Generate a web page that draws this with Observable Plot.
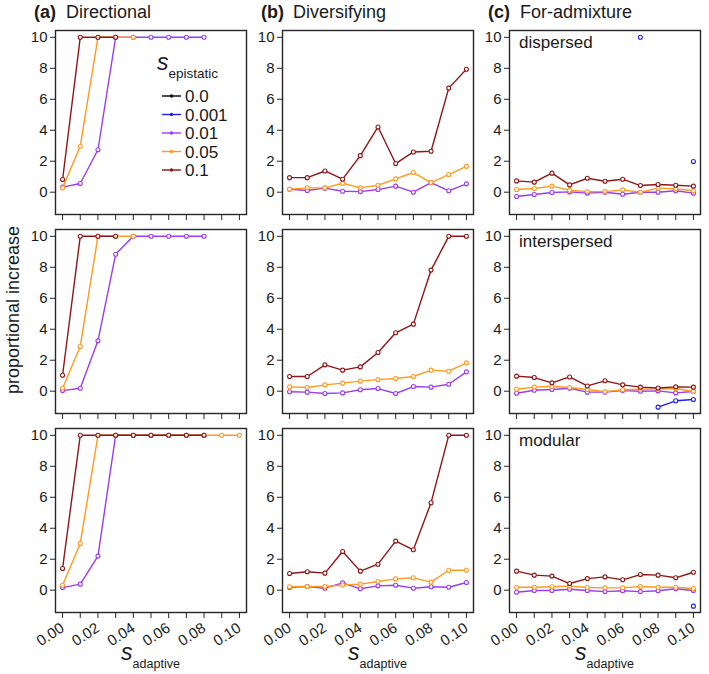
<!DOCTYPE html>
<html><head><meta charset="utf-8">
<script src="https://cdn.jsdelivr.net/npm/d3@7"></script>
<script src="https://cdn.jsdelivr.net/npm/@observablehq/plot@0.6"></script>
<style>
body{margin:0;background:#fff;}
#chart{position:relative;width:709px;height:674px;}
</style></head><body><div id="chart"></div>
<script>
// ---- data ----
const sAdaptive = [0, 0.01, 0.02, 0.03, 0.04, 0.05, 0.06, 0.07, 0.08, 0.09, 0.10];
const xTickLabels = [0, 0.02, 0.04, 0.06, 0.08, 0.10];
const yTicks = [0, 2, 4, 6, 8, 10];
const selections = ["Directional", "Diversifying", "For-admixture"];
const selectionTags = ["(a)", "(b)", "(c)"];
const architectures = ["dispersed", "interspersed", "modular"];
const epistaticLevels = ["0.0", "0.001", "0.01", "0.05", "0.1"];
const levelColors = ["#000000", "#1f1ff2", "#9a3cef", "#ff9a1f", "#8e1616"];
const _ = null;

// Directional
const dir_disp_001  = [0.33, 0.56, 2.74, 10, 10, 10, 10, 10, 10, _, _];
const dir_disp_005  = [0.28, 2.97, 10, 10, 10, _, _, _, _, _, _];
const dir_disp_01   = [0.82, 10, 10, 10, _, _, _, _, _, _, _];
const dir_inter_001 = [0.04, 0.19, 3.25, 8.84, 10, 10, 10, 10, 10, _, _];
const dir_inter_005 = [0.19, 2.89, 10, 10, 10, _, _, _, _, _, _];
const dir_inter_01  = [1.03, 10, 10, 10, _, _, _, _, _, _, _];
const dir_mod_001   = [0.17, 0.39, 2.2, 10, 10, 10, 10, 10, 10, _, _];
const dir_mod_005   = [0.32, 3.02, 10, 10, 10, 10, 10, 10, 10, 10, 10];
const dir_mod_01    = [1.40, 10, 10, 10, 10, 10, 10, 10, 10, _, _];
// Diversifying
const div_disp_001  = [0.19, 0.11, 0.26, 0.06, 0.04, 0.17, 0.39, 0.0, 0.62, 0.09, 0.54];
const div_disp_005  = [0.19, 0.28, 0.28, 0.58, 0.28, 0.45, 0.86, 1.27, 0.62, 1.14, 1.67];
const div_disp_01   = [0.94, 0.94, 1.37, 0.84, 2.36, 4.21, 1.85, 2.6, 2.64, 6.72, 7.94];
const div_inter_001 = [-0.04, -0.06, -0.15, -0.11, 0.09, 0.17, -0.15, 0.3, 0.26, 0.45, 1.25];
const div_inter_005 = [0.28, 0.24, 0.41, 0.52, 0.65, 0.75, 0.82, 0.95, 1.36, 1.29, 1.83];
const div_inter_01  = [0.95, 0.95, 1.70, 1.36, 1.57, 2.5, 3.77, 4.33, 7.82, 10, 10];
const div_mod_001   = [0.17, 0.24, 0.13, 0.47, 0.09, 0.28, 0.32, 0.13, 0.22, 0.19, 0.5];
const div_mod_005   = [0.22, 0.24, 0.24, 0.34, 0.39, 0.56, 0.73, 0.8, 0.52, 1.29, 1.29];
const div_mod_01    = [1.08, 1.19, 1.1, 2.5, 1.23, 1.68, 3.17, 2.61, 5.65, 10, 10];
// For-admixture
const adm_disp_0001  = [_, _, _, _, _, _, _, 10, _, _, 1.98];
const adm_disp_001   = [-0.28, -0.15, -0.02, 0.02, -0.06, 0.0, -0.13, 0.0, 0.0, 0.09, -0.06];
const adm_disp_005   = [0.17, 0.24, 0.39, 0.13, 0.04, 0.04, 0.15, 0.0, 0.26, 0.22, 0.09];
const adm_disp_01    = [0.73, 0.65, 1.23, 0.47, 0.9, 0.71, 0.84, 0.43, 0.5, 0.45, 0.39];
const adm_inter_0001 = [_, _, _, _, _, _, _, _, -1.03, -0.62, -0.54];
const adm_inter_001  = [-0.13, 0.06, 0.11, 0.19, -0.06, -0.06, 0.04, 0.0, 0.02, -0.11, -0.02];
const adm_inter_005  = [0.13, 0.26, 0.32, 0.24, 0.11, -0.04, 0.09, 0.13, 0.15, 0.17, -0.02];
const adm_inter_01   = [0.97, 0.88, 0.54, 0.92, 0.34, 0.67, 0.41, 0.26, 0.21, 0.28, 0.26];
const adm_mod_0001   = [_, _, _, _, _, _, _, _, _, _, -1.03];
const adm_mod_001    = [-0.13, -0.02, -0.02, 0.06, -0.02, -0.09, -0.04, -0.09, -0.04, 0.09, -0.02];
const adm_mod_005    = [0.19, 0.19, 0.22, 0.26, 0.17, 0.15, 0.15, 0.24, 0.19, 0.19, 0.11];
const adm_mod_01     = [1.23, 0.97, 0.91, 0.43, 0.75, 0.86, 0.67, 1.01, 0.97, 0.8, 1.16];

// ---- table ----
const rows = [];
function add(sel, arch, eps, ys) {
  ys.forEach((y, i) => rows.push({sel, arch, eps, x: sAdaptive[i], y}));
}
add("Directional", "dispersed", "0.01", dir_disp_001);
add("Directional", "dispersed", "0.05", dir_disp_005);
add("Directional", "dispersed", "0.1", dir_disp_01);
add("Directional", "interspersed", "0.01", dir_inter_001);
add("Directional", "interspersed", "0.05", dir_inter_005);
add("Directional", "interspersed", "0.1", dir_inter_01);
add("Directional", "modular", "0.01", dir_mod_001);
add("Directional", "modular", "0.05", dir_mod_005);
add("Directional", "modular", "0.1", dir_mod_01);
add("Diversifying", "dispersed", "0.01", div_disp_001);
add("Diversifying", "dispersed", "0.05", div_disp_005);
add("Diversifying", "dispersed", "0.1", div_disp_01);
add("Diversifying", "interspersed", "0.01", div_inter_001);
add("Diversifying", "interspersed", "0.05", div_inter_005);
add("Diversifying", "interspersed", "0.1", div_inter_01);
add("Diversifying", "modular", "0.01", div_mod_001);
add("Diversifying", "modular", "0.05", div_mod_005);
add("Diversifying", "modular", "0.1", div_mod_01);
add("For-admixture", "dispersed", "0.001", adm_disp_0001);
add("For-admixture", "dispersed", "0.01", adm_disp_001);
add("For-admixture", "dispersed", "0.05", adm_disp_005);
add("For-admixture", "dispersed", "0.1", adm_disp_01);
add("For-admixture", "interspersed", "0.001", adm_inter_0001);
add("For-admixture", "interspersed", "0.01", adm_inter_001);
add("For-admixture", "interspersed", "0.05", adm_inter_005);
add("For-admixture", "interspersed", "0.1", adm_inter_01);
add("For-admixture", "modular", "0.001", adm_mod_0001);
add("For-admixture", "modular", "0.01", adm_mod_001);
add("For-admixture", "modular", "0.05", adm_mod_005);
add("For-admixture", "modular", "0.1", adm_mod_01);

// ---- layout ----
const W = 709, H = 674;
const ML = 55, MT = 30, colW = 191, colGap = 36, rowH = 184, rowGap = 15;
const MR = W - ML - 3 * colW - 2 * colGap;
const MB = H - MT - 3 * rowH - 2 * rowGap;
const colLeft = i => ML + i * (colW + colGap);
const rowTop = j => MT + j * (rowH + rowGap);
const FONT = "'Liberation Sans', Arial, Helvetica, sans-serif";

const marks = [
  Plot.frame({stroke: "#262626", strokeWidth: 1.4}),
  Plot.axisY({ticks: yTicks, tickSize: 5, tickPadding: 3, label: null, facetAnchor: null, fontSize: 15, stroke: "#262626"}),
  Plot.axisX({ticks: sAdaptive, tickSize: 6, tickFormat: () => "", label: null, facetAnchor: null, stroke: "#262626"}),
  Plot.axisX({ticks: xTickLabels, tickSize: 0, tickPadding: 14, tickRotate: -33, tickFormat: d3.format(".2f"), label: null, facetAnchor: "bottom", fontSize: 15})
];
for (const lvl of epistaticLevels) {
  const d = rows.filter(r => r.eps === lvl);
  if (!d.length) continue;
  marks.push(Plot.line(d, {x: "x", y: "y", fx: "sel", fy: "arch", stroke: "eps", strokeWidth: 1.4}));
  marks.push(Plot.dot(d, {x: "x", y: "y", fx: "sel", fy: "arch", stroke: "eps", fill: "white", r: 2, strokeWidth: 1.1}));
}

const svg = Plot.plot({
  width: W, height: H,
  marginLeft: ML, marginRight: MR, marginTop: MT, marginBottom: MB,
  style: {fontFamily: FONT, fontSize: "15px", color: "#1a1a1a", background: "white"},
  fx: {domain: selections, paddingInner: colGap / (colW + colGap), paddingOuter: 0, axis: null, label: null},
  fy: {domain: architectures, paddingInner: rowGap / (rowH + rowGap), paddingOuter: 0, axis: null, label: null},
  x: {domain: [-0.004, 0.104]},
  y: {domain: [-1.44, 10.44]},
  color: {domain: epistaticLevels, range: levelColors},
  marks
});
document.getElementById("chart").appendChild(svg);

// ---- annotations ----
const s = d3.select(svg);
const g = s.append("g").attr("font-family", FONT).attr("fill", "#1a1a1a").attr("text-anchor", "start");
selections.forEach((name, i) => {
  g.append("text").attr("x", colLeft(i) - 21).attr("y", 18).attr("font-size", 18).attr("font-weight", "bold").text(selectionTags[i]);
  g.append("text").attr("x", colLeft(i) + 11).attr("y", 18).attr("font-size", 18).text(name);
  const t = g.append("text").attr("x", colLeft(i) + colW / 2).attr("y", 660).attr("text-anchor", "middle");
  t.append("tspan").attr("font-size", 23).attr("font-style", "italic").text("s");
  t.append("tspan").attr("font-size", 12.5).attr("dy", 8).text("adaptive");
});
architectures.forEach((name, j) => {
  g.append("text").attr("x", colLeft(2) + 10).attr("y", rowTop(j) + 18).attr("font-size", 17).text(name);
});
g.append("text").attr("transform", `translate(19,310) rotate(-90)`).attr("text-anchor", "middle").attr("font-size", 18).text("proportional increase");

// legend
const lt = g.append("text").attr("x", 157).attr("y", 70);
lt.append("tspan").attr("font-size", 23).attr("font-style", "italic").text("s");
lt.append("tspan").attr("font-size", 13.5).attr("dy", 8).text("epistatic");
epistaticLevels.forEach((lvl, k) => {
  const cy = 96 + k * 18.5;
  g.append("line").attr("x1", 162).attr("x2", 181).attr("y1", cy).attr("y2", cy).attr("stroke", levelColors[k]).attr("stroke-width", 1.4);
  g.append("circle").attr("cx", 171.5).attr("cy", cy).attr("r", 1.7).attr("fill", levelColors[k]);
  g.append("text").attr("x", 185).attr("y", cy + 6).attr("font-size", 17).text(lvl);
});
</script></body></html>
